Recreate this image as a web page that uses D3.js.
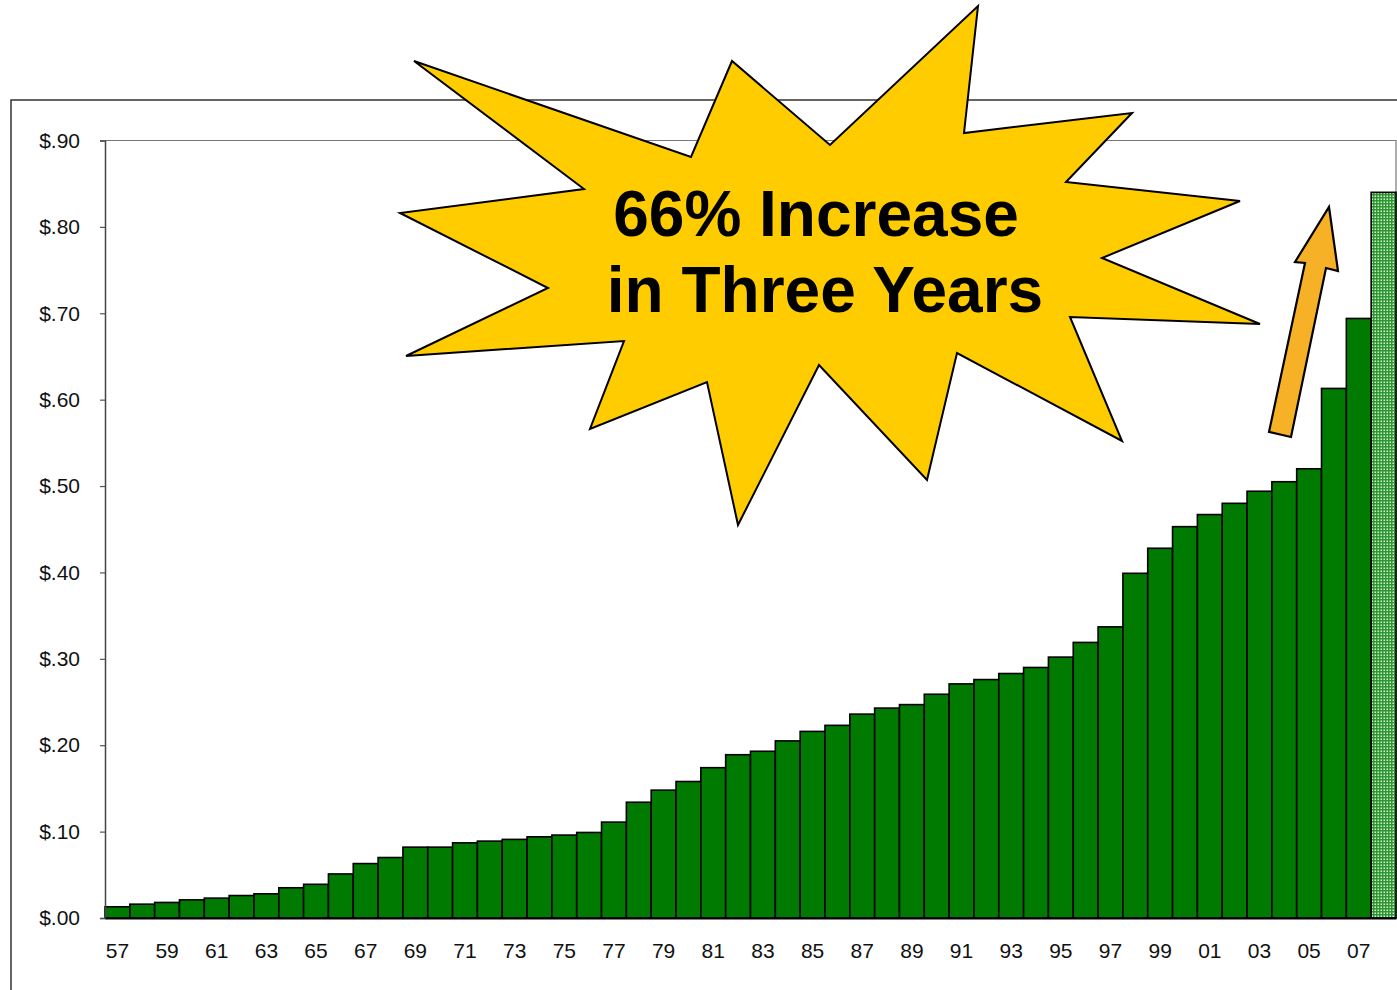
<!DOCTYPE html>
<html>
<head>
<meta charset="utf-8">
<script src="https://cdn.jsdelivr.net/npm/d3@7"></script>
<style>
  html, body { margin: 0; padding: 0; background: #ffffff; }
  svg { display: block; }
  text { font-family: "Liberation Sans", Arial, sans-serif; }
</style>
</head>
<body>
<svg id="chart" width="1397" height="990"></svg>
<script>
// ---- Data ----
const years = ["57","58","59","60","61","62","63","64","65","66","67","68","69","70","71","72","73","74","75","76","77","78","79","80","81","82","83","84","85","86","87","88","89","90","91","92","93","94","95","96","97","98","99","00","01","02","03","04","05","06","07","08"];
const values = [0.013,0.016,0.018,0.021,0.023,0.026,0.028,0.035,0.039,0.051,0.063,0.070,0.082,0.082,0.087,0.089,0.091,0.094,0.096,0.099,0.111,0.134,0.148,0.158,0.174,0.189,0.193,0.205,0.216,0.223,0.236,0.243,0.247,0.259,0.271,0.276,0.283,0.290,0.302,0.319,0.337,0.399,0.428,0.453,0.467,0.480,0.494,0.505,0.520,0.613,0.694,0.840];
const projectedYears = ["08"];
const yTicks = [0, 0.1, 0.2, 0.3, 0.4, 0.5, 0.6, 0.7, 0.8, 0.9];
const xTickLabels = ["57","59","61","63","65","67","69","71","73","75","77","79","81","83","85","87","89","91","93","95","97","99","01","03","05","07"];
const calloutLines = ["66% Increase", "in Three Years"];

// Annotation shapes (pixel outlines)
const starPoints = [[414,61],[691,157],[732,61],[830,145],[978,6],[964,133],[1132,113],[1066,182],[1240,201],[1102,258],[1260,324],[1070,317],[1122,441],[957,353],[927,480],[819,365],[738,525],[707,382],[590,429],[624,341],[406,356],[548,288],[400,213],[584,189]];
const arrowPoints = [[1329,207],[1338,271],[1326,268],[1291,437],[1269,432],[1305,263],[1295,262]];

// ---- Layout ----
const svg = d3.select("#chart");
const plot = { left: 105, right: 1396, top: 140.5, bottom: 918 };

const x = d3.scaleBand().domain(years).range([plot.left, plot.right]).padding(0);
const y = d3.scaleLinear().domain([0, 0.9]).range([plot.bottom, plot.top]);

const defs = svg.append("defs");
const pat = defs.append("pattern").attr("id", "dots")
  .attr("width", 3).attr("height", 3).attr("patternUnits", "userSpaceOnUse");
pat.append("rect").attr("width", 3).attr("height", 3).attr("fill", "#2e962e");
pat.append("rect").attr("x", 0.5).attr("y", 0.5).attr("width", 1.5).attr("height", 1.5).attr("fill", "#d6f2d6");

// outer frame
svg.append("path")
  .attr("d", "M11,992 L11,100 L1399,100")
  .attr("fill", "none").attr("stroke", "#333").attr("stroke-width", 1.5);

// plot frame (top & right)
svg.append("path")
  .attr("d", `M${plot.left},${plot.top} L${plot.right},${plot.top} L${plot.right},${plot.bottom}`)
  .attr("fill", "none").attr("stroke", "#777").attr("stroke-width", 1.2);

// bars
const data = years.map((yr, i) => ({ yr, v: values[i] }));
svg.append("g").selectAll("rect").data(data).join("rect")
  .attr("x", d => x(d.yr))
  .attr("y", d => y(d.v))
  .attr("width", x.bandwidth())
  .attr("height", d => y(0) - y(d.v))
  .attr("fill", d => projectedYears.includes(d.yr) ? "url(#dots)" : "#007a00")
  .attr("stroke", "#000")
  .attr("stroke-width", 1.6);

// y axis
const yAxis = d3.axisLeft(y)
  .tickValues(yTicks)
  .tickSize(5)
  .tickPadding(20)
  .tickFormat(d => "$" + d3.format(".2f")(d).slice(1));
const gy = svg.append("g").attr("transform", `translate(${plot.left},0)`).call(yAxis);
gy.select(".domain").attr("stroke", "#444").attr("stroke-width", 1.5);
gy.selectAll(".tick line").attr("stroke", "#555").attr("stroke-width", 1.2);
gy.selectAll(".tick text").attr("font-size", 21).attr("fill", "#111")
  .attr("font-family", "'Liberation Sans', Arial, sans-serif");

// x axis
const xAxis = d3.axisBottom(x).tickValues(xTickLabels).tickSize(0).tickPadding(25);
const gx = svg.append("g").attr("transform", `translate(0,${plot.bottom})`).call(xAxis);
gx.select(".domain").attr("stroke", "#000").attr("stroke-width", 1.8);
gx.selectAll(".tick text").attr("font-size", 21).attr("fill", "#111")
  .attr("font-family", "'Liberation Sans', Arial, sans-serif");

// starburst callout
svg.append("polygon")
  .attr("points", starPoints.map(p => p.join(",")).join(" "))
  .attr("fill", "#ffcc00").attr("stroke", "#000").attr("stroke-width", 2)
  .attr("stroke-linejoin", "miter");

svg.append("text")
  .attr("x", 816).attr("y", 236)
  .attr("text-anchor", "middle")
  .attr("font-size", 64).attr("font-weight", "bold").attr("fill", "#000")
  .text(calloutLines[0]);
svg.append("text")
  .attr("x", 825).attr("y", 312)
  .attr("text-anchor", "middle")
  .attr("font-size", 64).attr("font-weight", "bold").attr("fill", "#000")
  .text(calloutLines[1]);

// arrow
svg.append("polygon")
  .attr("points", arrowPoints.map(p => p.join(",")).join(" "))
  .attr("fill", "#f6b126").attr("stroke", "#000").attr("stroke-width", 2.2)
  .attr("stroke-linejoin", "miter");
</script>
</body>
</html>
